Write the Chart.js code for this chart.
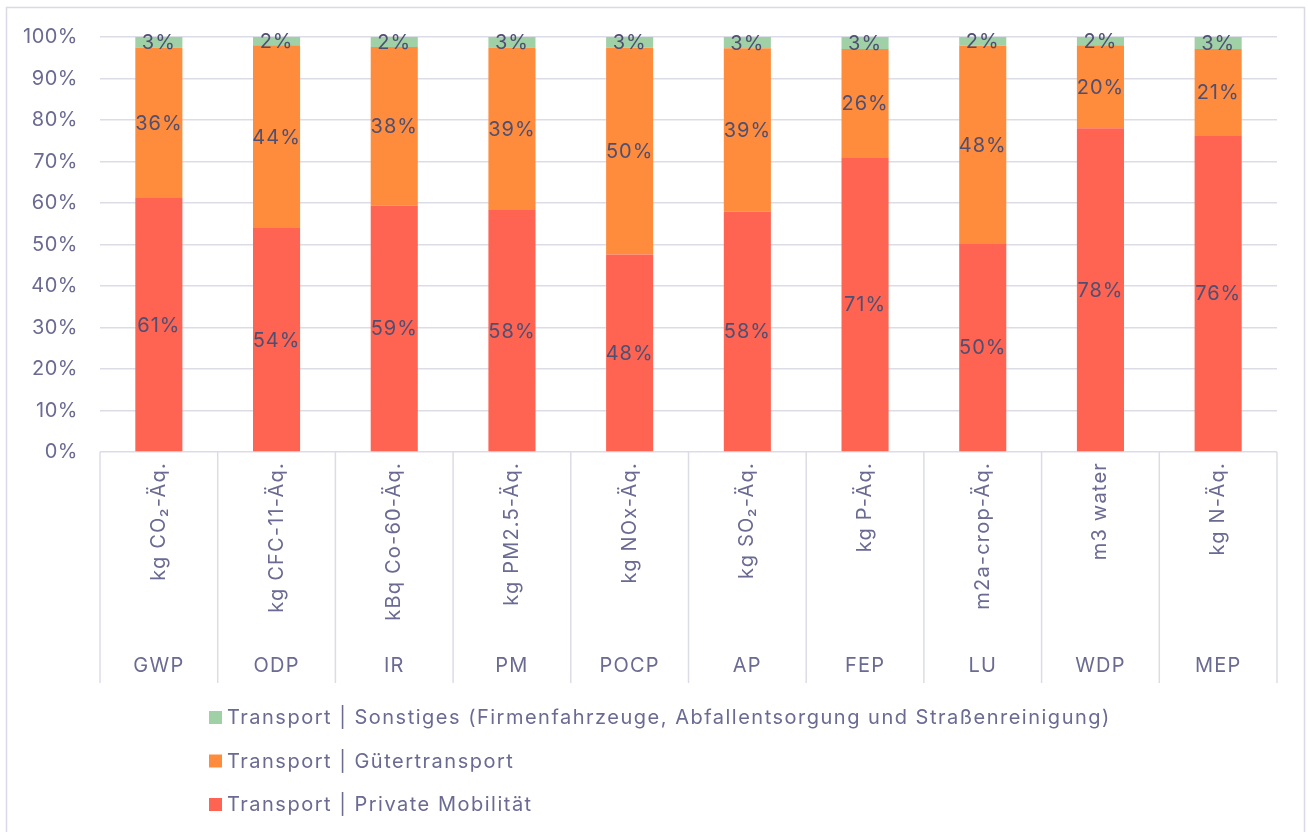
<!DOCTYPE html>
<html>
<head>
<meta charset="utf-8">
<script src="https://cdn.jsdelivr.net/npm/chart.js@4/dist/chart.umd.min.js"></script>
<style>
html,body{margin:0;padding:0;background:#fff;}
#wrap{width:1308px;height:832px;position:relative;}
</style>
</head>
<body>
<div id="wrap"><canvas id="c" width="1308" height="832"></canvas></div>
<script>
const groups = ['GWP','ODP','IR','PM','POCP','AP','FEP','LU','WDP','MEP'];
const units = ['kg CO₂-Äq.','kg CFC-11-Äq.','kBq Co-60-Äq.','kg PM2.5-Äq.','kg NOx-Äq.','kg SO₂-Äq.','kg P-Äq.','m2a-crop-Äq.','m3 water','kg N-Äq.'];
const privateMob = [61.2, 54.0, 59.4, 58.3, 47.6, 57.9, 71.0, 50.3, 78.0, 76.3];
const gueter     = [36.3, 44.0, 38.2, 39.2, 49.8, 39.4, 26.1, 47.6, 20.0, 20.8];
const sonstiges  = [2.5, 2.0, 2.4, 2.5, 2.6, 2.7, 2.9, 2.1, 2.0, 2.9];
const seriesNames = ['Transport | Private Mobilität','Transport | Gütertransport','Transport | Sonstiges (Firmenfahrzeuge, Abfallentsorgung und Straßenreinigung)'];
const yTicks = [0,10,20,30,40,50,60,70,80,90,100];

const FONT = 'Inter, "Open Sans", sans-serif';
const AXIS_COLOR = '#6a6a93';
const LABEL_COLOR = '#4f4f72';
const GRID = '#dcdce7';

const frame = {
  id:'frame',
  beforeDraw(chart){
    const ctx = chart.ctx;
    ctx.letterSpacing = '0.5px';
    ctx.save();
    ctx.strokeStyle = '#dadae6';
    ctx.lineWidth = 1.5;
    ctx.strokeRect(6.5, 7.5, 1298, 840);
    ctx.restore();
  }
};

const dataLabels = {
  id:'dataLabels',
  afterDatasetsDraw(chart){
    const ctx = chart.ctx;
    ctx.save();
    ctx.letterSpacing = '1px';
    ctx.font = '20px ' + FONT;
    ctx.fillStyle = LABEL_COLOR;
    ctx.textAlign = 'center';
    ctx.textBaseline = 'middle';
    chart.data.datasets.forEach((ds, di) => {
      const meta = chart.getDatasetMeta(di);
      meta.data.forEach((bar, i) => {
        const v = ds.data[i];
        const yc = (bar.y + bar.base) / 2;
        ctx.fillText(Math.round(v) + '%', bar.x, yc + 1);
      });
    });
    ctx.restore();
  }
};

const xAxisLabels = {
  id:'xAxisLabels',
  afterDraw(chart){
    const ctx = chart.ctx;
    const xs = chart.scales.x;
    const area = chart.chartArea;
    const n = groups.length;
    const step = (xs.getPixelForValue(1) - xs.getPixelForValue(0));
    ctx.save();
    ctx.strokeStyle = GRID;
    ctx.lineWidth = 1.5;
    for (let i = 0; i <= n; i++) {
      const x = xs.getPixelForValue(i) - step / 2;
      ctx.beginPath();
      ctx.moveTo(x, area.bottom);
      ctx.lineTo(x, 683);
      ctx.stroke();
    }
    ctx.fillStyle = AXIS_COLOR;
    ctx.font = '20px ' + FONT;
    ctx.letterSpacing = '1.2px';
    for (let i = 0; i < n; i++) {
      const x = xs.getPixelForValue(i);
      ctx.save();
      ctx.translate(x, area.bottom + 10);
      ctx.rotate(-Math.PI / 2);
      ctx.textAlign = 'right';
      ctx.textBaseline = 'middle';
      ctx.fillText(units[i], 0, 0);
      ctx.restore();
      ctx.textAlign = 'center';
      ctx.textBaseline = 'middle';
      ctx.fillText(groups[i], x, 666);
    }
    ctx.letterSpacing = '1.5px';
    const order = [2,1,0];
    order.forEach((di, k) => {
      const ds = chart.data.datasets[di];
      const y = 717 + k * 43.5;
      ctx.fillStyle = ds.backgroundColor;
      ctx.fillRect(209, y - 6, 13, 13);
      ctx.fillStyle = AXIS_COLOR;
      ctx.textAlign = 'left';
      ctx.textBaseline = 'middle';
      ctx.fillText(ds.label, 227, y + 1);
    });
    ctx.restore();
  }
};

new Chart(document.getElementById('c'), {
  type: 'bar',
  data: {
    labels: groups,
    datasets: [
      {label: seriesNames[0], data: privateMob, backgroundColor: '#ff6352'},
      {label: seriesNames[1], data: gueter, backgroundColor: '#ff8c3c'},
      {label: seriesNames[2], data: sonstiges, backgroundColor: '#a0d0a6'}
    ]
  },
  options: {
    responsive: false,
    animation: false,
    devicePixelRatio: 1,
    layout: {padding: {left: 0, right: 31, top: 37, bottom: 380}},
    datasets: {bar: {categoryPercentage: 1.0, barPercentage: 0.4}},
    plugins: {legend: {display: false}, tooltip: {enabled: false}},
    scales: {
      x: {stacked: true, display: false},
      y: {
        stacked: true, min: 0, max: 100,
        afterFit(scale){ scale.width = 100; },
        afterBuildTicks(scale){ scale.ticks = yTicks.map(v => ({value: v})); },
        border: {display: false},
        grid: {color: GRID, lineWidth: 1.5, drawTicks: false},
        ticks: {
          padding: 22,
          color: AXIS_COLOR,
          font: {family: FONT, size: 20},
          callback: v => v + '%'
        }
      }
    }
  },
  plugins: [frame, dataLabels, xAxisLabels]
});
</script>
</body>
</html>
